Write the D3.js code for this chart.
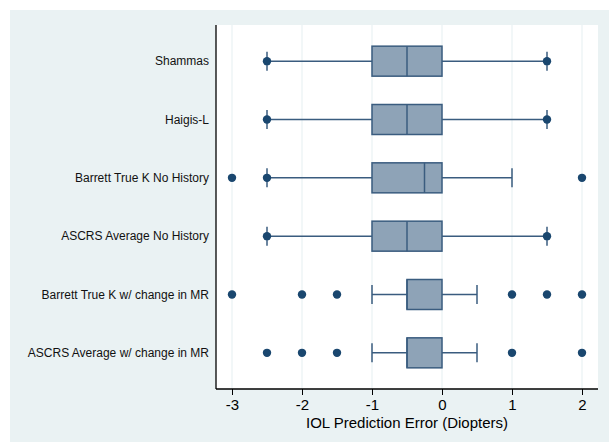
<!DOCTYPE html>
<html>
<head>
<meta charset="utf-8">
<script src="https://cdn.jsdelivr.net/npm/d3@7"></script>
<style>
  body { margin: 0; background: #fff; }
  text { font-family: "Liberation Sans", Arial, sans-serif; }
</style>
</head>
<body>
<svg id="chart" width="609" height="442"></svg>
<script>
// categories, top to bottom
const methods = [
  "Shammas",
  "Haigis-L",
  "Barrett True K No History",
  "ASCRS Average No History",
  "Barrett True K w/ change in MR",
  "ASCRS Average w/ change in MR"
];
// box stats per method: lower whisker, q1, median, q3, upper whisker
const whiskLo = [-2.5, -2.5, -2.5, -2.5, -1, -1];
const q1      = [-1, -1, -1, -1, -0.5, -0.5];
const median  = [-0.5, -0.5, -0.25, -0.5, -0.5, -0.5];
const q3      = [0, 0, 0, 0, 0, 0];
const whiskHi = [1.5, 1.5, 1, 1.5, 0.5, 0.5];
// outside values (dots)
const outliers = [
  [-2.5, 1.5],
  [-2.5, 1.5],
  [-3, -2.5, 2],
  [-2.5, 1.5],
  [-3, -2, -1.5, 1, 1.5, 2],
  [-2.5, -2, -1.5, 1, 2]
];
const xTicks = [-3, -2, -1, 0, 1, 2];
const xTitle = "IOL Prediction Error (Diopters)";

const svg = d3.select("#chart");
const W = 609, H = 442;
const m = {left: 216, right: 11, top: 25, bottom: 53};

const navy = "#1a476f";
const boxStroke = "#3a5c7f";
const boxFill = "#8ea3b7";

// outer graph region
svg.append("rect")
    .attr("x", 10).attr("y", 10)
    .attr("width", W - 10).attr("height", H - 10)
    .attr("fill", "#eaf2f3");

const x = d3.scaleLinear()
    .domain([-3 - 16 / 70, 2 + 16 / 70])
    .range([m.left, W - m.right]);
const y = d3.scalePoint()
    .domain(methods)
    .range([m.top, H - m.bottom])
    .padding(0.62);

// plot region
svg.append("rect")
    .attr("x", m.left).attr("y", m.top)
    .attr("width", W - m.right - m.left).attr("height", H - m.bottom - m.top)
    .attr("fill", "#fff");

// grid
svg.append("g").selectAll("line")
    .data(xTicks)
    .join("line")
    .attr("x1", d => x(d)).attr("x2", d => x(d))
    .attr("y1", m.top).attr("y2", H - m.bottom)
    .attr("stroke", "#eaf2f3").attr("stroke-width", 1.2);

const rows = methods.map((name, i) => ({
  name, lo: whiskLo[i], q1: q1[i], med: median[i], q3: q3[i], hi: whiskHi[i], out: outliers[i]
}));

const g = svg.append("g").selectAll("g")
    .data(rows)
    .join("g")
    .attr("transform", d => `translate(0,${y(d.name)})`);

// whiskers
g.append("line")
    .attr("x1", d => x(d.lo)).attr("x2", d => x(d.q1))
    .attr("stroke", boxStroke).attr("stroke-width", 1.5);
g.append("line")
    .attr("x1", d => x(d.q3)).attr("x2", d => x(d.hi))
    .attr("stroke", boxStroke).attr("stroke-width", 1.5);
// caps
g.selectAll(".cap")
    .data(d => [d.lo, d.hi])
    .join("line")
    .attr("class", "cap")
    .attr("x1", v => x(v)).attr("x2", v => x(v))
    .attr("y1", -9.5).attr("y2", 9.5)
    .attr("stroke", boxStroke).attr("stroke-width", 1.5);
// box
g.append("rect")
    .attr("x", d => x(d.q1))
    .attr("width", d => x(d.q3) - x(d.q1))
    .attr("y", -15).attr("height", 30)
    .attr("fill", boxFill)
    .attr("stroke", boxStroke).attr("stroke-width", 1.5);
g.append("line")
    .attr("x1", d => x(d.med)).attr("x2", d => x(d.med))
    .attr("y1", -15).attr("y2", 15)
    .attr("stroke", boxStroke).attr("stroke-width", 1.5);
// outside values
g.selectAll(".out")
    .data(d => d.out)
    .join("circle")
    .attr("class", "out")
    .attr("cx", v => x(v)).attr("cy", 0)
    .attr("r", 4.2)
    .attr("fill", navy);

// y labels
svg.append("g").selectAll("text")
    .data(methods)
    .join("text")
    .attr("x", 209).attr("y", d => y(d))
    .attr("dy", "0.35em")
    .attr("text-anchor", "end")
    .attr("font-size", 12)
    .attr("fill", "#111")
    .text(d => d);

// axes lines
svg.append("line")
    .attr("x1", m.left).attr("x2", m.left)
    .attr("y1", m.top).attr("y2", H - m.bottom)
    .attr("stroke", "#000").attr("stroke-width", 1.3);

const xAxis = svg.append("g")
    .attr("transform", `translate(0,${H - m.bottom})`)
    .call(d3.axisBottom(x).tickValues(xTicks).tickSize(6).tickPadding(4).tickFormat(d3.format("d")));
xAxis.select(".domain")
    .attr("d", `M${m.left},0H${W - m.right}`)
    .attr("stroke", "#000").attr("stroke-width", 1.3);
xAxis.selectAll(".tick line").attr("stroke", "#000");
xAxis.selectAll(".tick text")
    .attr("font-size", 15)
    .attr("font-family", "Liberation Sans, Arial, sans-serif")
    .attr("fill", "#000")
    .text(d => d < 0 ? "-" + Math.abs(d) : d);

svg.append("text")
    .attr("x", (m.left + W - m.right) / 2)
    .attr("y", 428)
    .attr("text-anchor", "middle")
    .attr("font-size", 15)
    .attr("fill", "#000")
    .text(xTitle);
</script>
</body>
</html>
